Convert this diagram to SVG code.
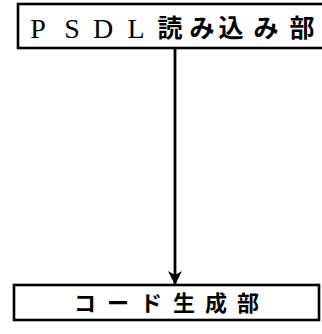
<svg xmlns="http://www.w3.org/2000/svg" width="322" height="334" viewBox="0 0 322 334">
<style>
.box{fill:#fff;stroke:#000;stroke-width:2.6}
.lat{font-family:"Liberation Serif","Noto Serif CJK JP",serif;font-size:28px;fill:#000;text-anchor:middle}
.jp{font-family:"Noto Sans CJK JP",sans-serif;font-weight:bold;fill:#000;text-anchor:middle}
.conn{stroke:#000;stroke-width:2.8;fill:none}
</style>
<defs>
<marker id="ah" viewBox="0 0 14 14" refX="14" refY="7" markerWidth="14" markerHeight="14" markerUnits="userSpaceOnUse" orient="auto">
<path d="M0,0 L14,7 L0,14 L4,7 Z" fill="#000"/>
</marker>
</defs>
<rect width="322" height="334" fill="#fff"/>
<g id="connectors">
<line class="conn" x1="175" y1="49" x2="175" y2="285" marker-end="url(#ah)"/>
</g>
<g id="psdl">
<rect class="box" x="18" y="4" width="320" height="44"/>
<text class="lat" y="38"><tspan x="38">P</tspan><tspan x="72">S</tspan><tspan x="103">D</tspan><tspan x="136">L</tspan></text>
<text class="jp" y="37" font-size="25"><tspan x="170">読</tspan><tspan x="202">み</tspan><tspan x="231">込</tspan><tspan x="266">み</tspan><tspan x="302">部</tspan></text>
</g>
<g id="codegen">
<rect class="box" x="14" y="285" width="305" height="35"/>
<text class="jp" y="311" font-size="22"><tspan x="85">コ</tspan><tspan x="118">ー</tspan><tspan x="151">ド</tspan><tspan x="184">生</tspan><tspan x="216">成</tspan><tspan x="248">部</tspan></text>
</g>
</svg>
